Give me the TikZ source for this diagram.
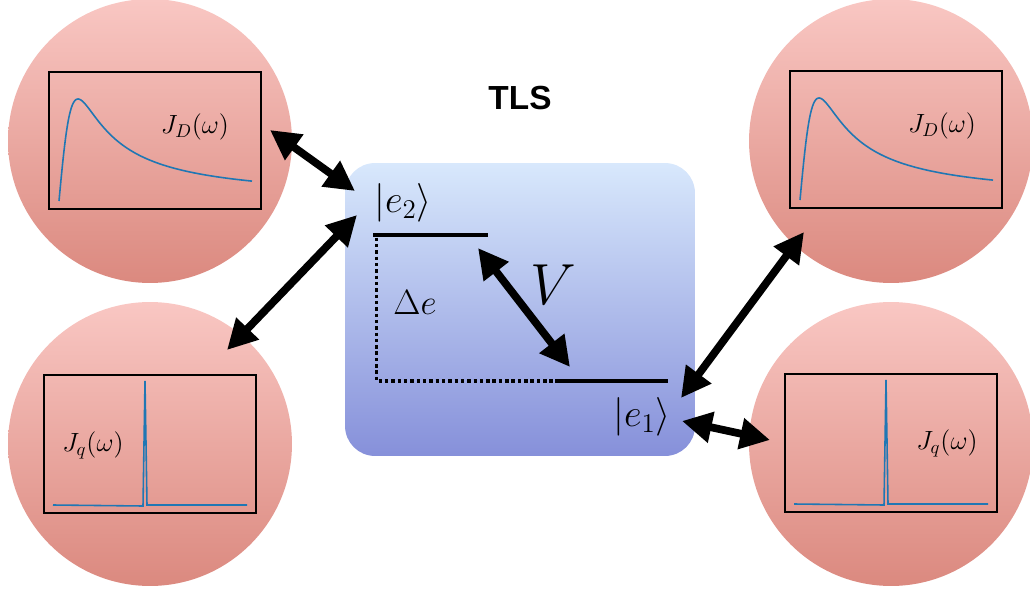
\RequirePackage{fix-cm}
\documentclass[tikz,border=0pt]{standalone}
\usepackage{fontspec}
\setsansfont{Liberation Sans}
\usetikzlibrary{arrows.meta}
\definecolor{bathtop}{HTML}{F9C7C3}
\definecolor{bathbot}{HTML}{DB897F}
\definecolor{tlstop}{HTML}{D8E8FC}
\definecolor{tlsbot}{HTML}{8690DA}
\definecolor{mplblue}{HTML}{1F77B4}

\begin{document}
\begin{tikzpicture}[x=0.02cm, y=-0.02cm, >={Triangle[length=17pt,width=17pt]},
    bath/.style={circle, minimum size=5.68cm, inner sep=0pt, top color=bathtop, bottom color=bathbot, draw=none},
    coupling/.style={<->, line width=4.4pt},
    level/.style={line width=2.8pt},
    gapline/.style={line width=2pt, dash pattern=on 2pt off 1.6pt},
    spec/.style={mplblue, line width=0.9pt},
    frame/.style={line width=0.6pt},
    lbl/.style={font=\fontsize{15}{18}\selectfont}]
    \useasboundingbox (0,0) rectangle (1030,591);
    % baths
    \node[bath] (drudeL) at (150,141) {};
    \node[bath] (peakL) at (150,444) {};
    \node[bath] (drudeR) at (891,141) {};
    \node[bath] (peakR) at (891,444) {};
    \foreach \dx/\dy in {0/0, 741/-1} {
        \draw[frame] ({49+\dx},{72+\dy}) rectangle ({261+\dx},{209+\dy});
        \draw[spec] plot[domain=0:19.3, samples=200, smooth] ({59+\dx+10*\x},{201+\dy-387.6*\x/(\x*\x+3.61)});
        \draw[frame] ({44+\dx},{375+\dy}) rectangle ({256+\dx},{513+\dy});
        \draw[spec] ({53+\dx},{505+\dy}) -- ({143+\dx},{506+\dy}) -- ({145+\dx},{381+\dy}) -- ({147+\dx},{505+\dy}) -- ({247+\dx},{505+\dy});
    }
    \node[lbl] (jdL) at (195,127) {$J_D(\omega)$};
    \node[lbl] (jqL) at (93,445) {$J_q(\omega)$};
    \node[lbl] (jdR) at (942,126) {$J_D(\omega)$};
    \node[lbl] (jqR) at (947,443) {$J_q(\omega)$};
    % two-level system
    \node[rounded corners=0.6cm, minimum width=7cm, minimum height=5.86cm, top color=tlstop, bottom color=tlsbot] (tls) at (520,309.5) {};
    \node[font=\sffamily\bfseries\fontsize{19}{22}\selectfont] (title) at (520,98) {TLS};
    \coordinate (upL) at (373,235);
    \coordinate (upR) at (488,235);
    \coordinate (loL) at (555,381);
    \coordinate (loR) at (668,381);
    \draw[gapline] ([xshift=2pt,yshift=-1.5pt]upL) |- (loL);
    \draw[level] (upL) -- (upR);
    \draw[level] (loL) -- (loR);
    \node[font=\fontsize{22}{26}\selectfont] (e2) at (403,203) {$|e_2\rangle$};
    \node[font=\fontsize{22}{26}\selectfont] (e1) at (642,417) {$|e_1\rangle$};
    \node[font=\fontsize{20}{24}\selectfont] (gap) at (415,302) {$\Delta e$};
    \node[font=\fontsize{33}{38}\selectfont] (cpl) at (553,285) {$V$};
    % couplings
    \coordinate (dLtip) at (270,130);
    \coordinate (e2top) at (355,191);
    \coordinate (qLtip) at (227,350);
    \coordinate (e2bot) at (357,215);
    \coordinate (vtop) at (478,248);
    \coordinate (vbot) at (570,367);
    \coordinate (dRtip) at (804,232);
    \coordinate (e1top) at (681,398);
    \coordinate (e1bot) at (682,421);
    \coordinate (qRtip) at (770,440);
    \draw[coupling] (dLtip) -- (e2top);
    \draw[coupling] (qLtip) -- (e2bot);
    \draw[coupling] (vtop) -- (vbot);
    \draw[coupling] (dRtip) -- (e1top);
    \draw[coupling] (e1bot) -- (qRtip);
\end{tikzpicture}
\end{document}
